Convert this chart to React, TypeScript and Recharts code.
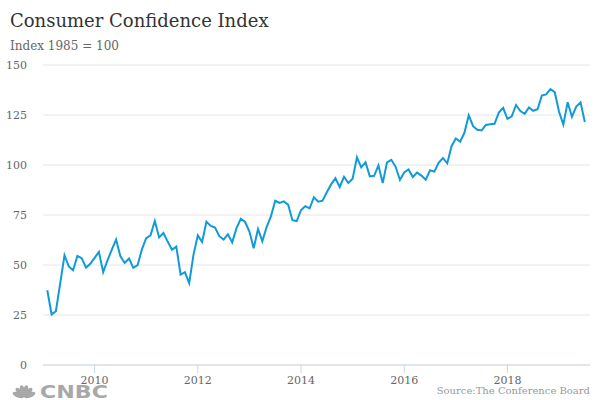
import React from "react";
import { LineChart, Line, XAxis, YAxis, CartesianGrid } from "recharts";

const years = [2009, 2010, 2011, 2012, 2013, 2014, 2015, 2016, 2017, 2018, 2019];

const v2009 = [37.4, 25.3, 26.9, 40.8, 54.8, 49.3, 47.4, 54.5, 53.4, 48.7, 50.6, 53.6];
const v2010 = [56.5, 46.4, 52.3, 57.7, 62.7, 54.3, 51.0, 53.2, 48.6, 49.9, 57.8, 63.4];
const v2011 = [64.8, 72.0, 63.8, 66.0, 61.7, 57.6, 59.2, 45.2, 46.4, 40.9, 55.2, 64.8];
const v2012 = [61.5, 71.6, 69.5, 68.7, 64.4, 62.7, 65.4, 61.3, 68.4, 73.1, 71.5, 66.7];
const v2013 = [58.4, 68.0, 61.9, 69.0, 74.3, 82.1, 81.0, 81.8, 80.2, 72.4, 72.0, 77.5];
const v2014 = [79.4, 78.3, 83.9, 81.7, 82.2, 86.4, 90.3, 93.4, 89.0, 94.1, 91.0, 93.1];
const v2015 = [103.8, 98.8, 101.4, 94.3, 94.6, 99.8, 91.0, 101.3, 102.6, 99.1, 92.6, 96.3];
const v2016 = [97.8, 94.0, 96.2, 94.7, 92.6, 97.4, 96.7, 101.1, 103.5, 100.8, 109.4, 113.3];
const v2017 = [111.6, 116.1, 124.9, 119.4, 117.6, 117.3, 120.0, 120.4, 120.6, 126.2, 128.6, 123.1];
const v2018 = [124.3, 130.0, 127.0, 125.6, 128.8, 127.1, 127.9, 134.7, 135.3, 137.9, 136.4, 126.6];
const v2019 = [120.2, 131.4, 124.1, 129.2, 131.3, 121.5];

const yearValues = [v2009, v2010, v2011, v2012, v2013, v2014, v2015, v2016, v2017, v2018, v2019];

const xTicks = [2010, 2012, 2014, 2016, 2018];
const yTicks = [0, 25, 50, 75, 100, 125, 150];

const title = "Consumer Confidence Index";
const subtitle = "Index 1985 = 100";
const source = "Source:The Conference Board";

// month-end dating: Jan -> year + 1/12
const data = years.flatMap((y, i) =>
  yearValues[i].map((v, m) => ({ t: y + (m + 1) / 12, cci: v }))
);

const FONT = "'DejaVu Serif', serif";
const AXIS_Y = 365;

const XTick = (props: any) => {
  const { x, payload } = props;
  return (
    <g>
      <line x1={x} x2={x} y1={AXIS_Y} y2={AXIS_Y + 8} stroke="#ccd6eb" strokeWidth={1} />
      <text x={x} y={AXIS_Y + 19} textAnchor="middle" fontFamily={FONT} fontSize={11} fill="#666">
        {payload.value}
      </text>
    </g>
  );
};

const YTick = (props: any) => {
  const { y, payload } = props;
  return (
    <text x={27} y={y + 4} textAnchor="end" fontFamily={FONT} fontSize={11} fill="#666">
      {payload.value}
    </text>
  );
};

export default function App() {
  return (
    <div style={{ position: "absolute", left: 0, top: 0, width: 600, height: 400, background: "#fff" }}>
      <LineChart width={600} height={400} data={data} margin={{ top: 65, right: 10, bottom: 5, left: 0 }}>
        <CartesianGrid horizontal vertical={false} stroke="#e6e6e6" />
        <XAxis
          type="number"
          dataKey="t"
          domain={[2009, 2019.6]}
          allowDataOverflow
          ticks={xTicks}
          height={30}
          axisLine={{ stroke: "#ccd6eb" }}
          tickLine={false}
          tick={<XTick />}
        />
        <YAxis
          width={43}
          domain={[0, 150]}
          ticks={yTicks}
          axisLine={false}
          tickLine={false}
          tick={<YTick />}
        />
        <Line
          type="linear"
          dataKey="cci"
          stroke="#119ad9"
          strokeWidth={2}
          dot={false}
          isAnimationActive={false}
        />
      </LineChart>
      <svg width={600} height={400} style={{ position: "absolute", left: 0, top: 0, pointerEvents: "none" }}>
        <text x={10} y={27} fontFamily={FONT} fontSize={18} fill="#333">{title}</text>
        <text x={10} y={50} fontFamily={FONT} fontSize={12} fill="#666">{subtitle}</text>
        <text x={590} y={394} textAnchor="end" fontFamily={FONT} fontSize={10} fill="#999">{source}</text>
        <g fill="#a8a8a8">
          <g transform="translate(24,397)">
            {[-70, -42, -14, 14, 42, 70].map((a) => (
              <ellipse key={a} cx={0} cy={-6} rx={2.6} ry={6} transform={`rotate(${a})`} />
            ))}
          </g>
          <text x={40} y={398} fontFamily="'DejaVu Sans', sans-serif" fontWeight="bold" fontSize={17} textLength={68} lengthAdjust="spacingAndGlyphs">CNBC</text>
        </g>
      </svg>
    </div>
  );
}
